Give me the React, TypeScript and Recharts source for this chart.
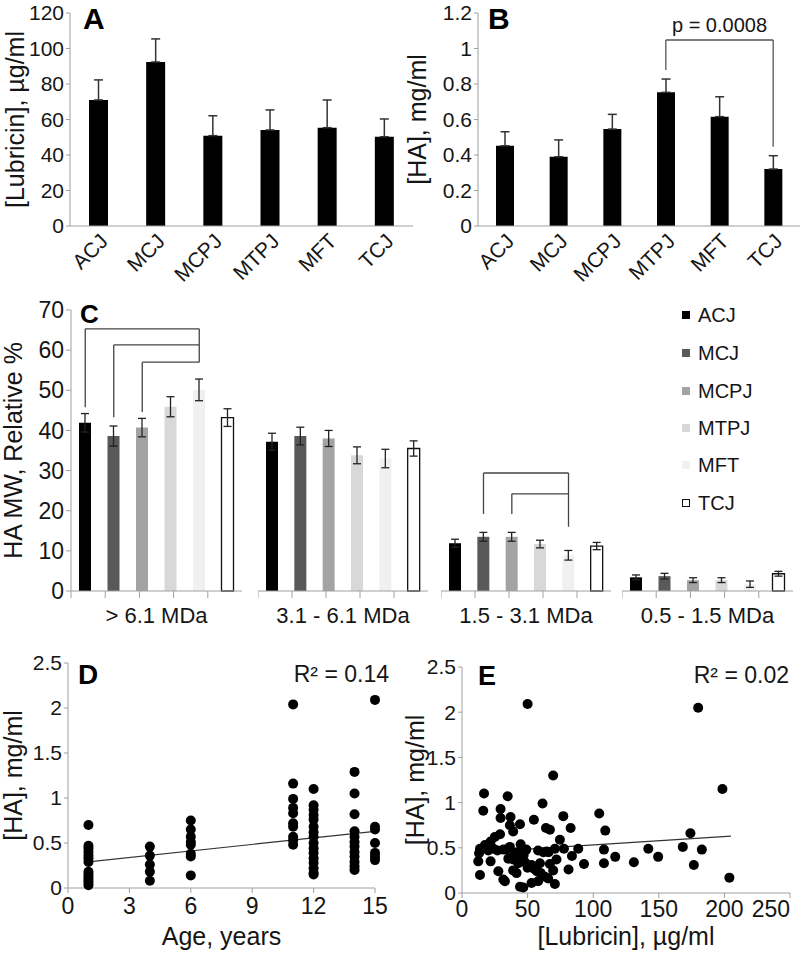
import React from 'react';
import {
  BarChart, Bar, XAxis, YAxis, ErrorBar, Cell, ReferenceLine, ScatterChart, Scatter,
} from 'recharts';

// ---------- data ----------
const joints = ['ACJ', 'MCJ', 'MCPJ', 'MTPJ', 'MFT', 'TCJ'];
const jointColors = ['#000000', '#595959', '#a3a3a3', '#d8d8d8', '#f0f0f0', '#ffffff'];

const lubricin = [71, 92.4, 50.9, 54.1, 55.4, 50.3];
const lubricinErr = [11.3, 13, 11.2, 11.3, 15.6, 10];

const haConc = [0.452, 0.39, 0.546, 0.753, 0.616, 0.321];
const haErr = [0.079, 0.095, 0.083, 0.075, 0.112, 0.075];
const haBracket = { left: 'MTPJ', right: 'TCJ', top: 1.048, leftBottom: 0.879, rightBottom: 0.447 };

const mwGroups = ['> 6.1 MDa', '3.1 - 6.1 MDa', '1.5 - 3.1 MDa', '0.5 - 1.5 MDa'];
const mwHigh = [41.9, 38.6, 40.7, 45.9, 50.1, 43.2];
const mwHighErr = [2.3, 2.5, 2.3, 2.5, 2.7, 2.2];
const mwMid = [37.2, 38.6, 38.0, 33.8, 33.0, 35.5];
const mwMidErr = [2.1, 2.2, 2.0, 2.1, 2.3, 1.9];
const mwLow = [11.9, 13.5, 13.5, 11.7, 8.9, 11.2];
const mwLowErr = [1.0, 1.1, 1.1, 0.95, 1.2, 0.9];
const mwVeryLow = [3.4, 3.7, 2.7, 2.7, 1.7, 4.3];
const mwVeryLowErr = [0.6, 0.7, 0.6, 0.6, 0.8, 0.6];
const mwValues = [mwHigh, mwMid, mwLow, mwVeryLow];
const mwErrs = [mwHighErr, mwMidErr, mwLowErr, mwVeryLowErr];

// brackets: [from joint, to joint, horizontal level, from-leg bottom, to-leg bottom]
const bracketsHigh: [string, string, number, number, number][] = [
  ['ACJ', 'MFT', 65.3, 45.8, 57.0],
  ['MCJ', 'MFT', 61.3, 43.3, 57.0],
  ['MCPJ', 'MFT', 57.0, 44.6, 57.0],
];
const bracketsLow: [string, string, number, number, number][] = [
  ['MCJ', 'MFT', 29.4, 19.2, 16.0],
  ['MCPJ', 'MFT', 24.2, 19.2, 16.0],
];
const mwBrackets = [bracketsHigh, [], bracketsLow, []];

const ageYears = [
  1, 1, 1, 1, 1, 1, 1, 1, 1, 1, 1, 1, 1,
  4, 4, 4, 4, 4,
  6, 6, 6, 6, 6, 6, 6, 6,
  11, 11, 11, 11, 11, 11, 11, 11, 11, 11,
  12, 12, 12, 12, 12, 12, 12, 12, 12, 12, 12, 12, 12, 12, 12, 12,
  14, 14, 14, 14, 14, 14, 14, 14, 14, 14, 14, 14,
  15, 15, 15, 15, 15, 15, 15,
];
const ageHA = [
  0.70, 0.47, 0.44, 0.40, 0.36, 0.33, 0.29, 0.18, 0.15, 0.12, 0.09, 0.06, 0.03,
  0.46, 0.36, 0.26, 0.18, 0.08,
  0.75, 0.65, 0.57, 0.51, 0.48, 0.38, 0.35, 0.14,
  2.04, 1.16, 0.99, 0.89, 0.83, 0.72, 0.68, 0.57, 0.53, 0.48,
  1.10, 0.92, 0.87, 0.81, 0.76, 0.68, 0.62, 0.57, 0.50, 0.44, 0.39, 0.33, 0.28, 0.22, 0.17, 0.15,
  1.29, 1.05, 0.82, 0.63, 0.57, 0.51, 0.46, 0.40, 0.35, 0.29, 0.24, 0.20,
  2.09, 0.68, 0.65, 0.50, 0.39, 0.35, 0.31,
];
const ageTrend = [{ x: 1, y: 0.29 }, { x: 15, y: 0.63 }];

const lubVals = [
  50, 69.5, 16.8, 34.8, 16.2, 61.4, 29.4, 29.4, 37, 54.8, 44.2, 36.5, 64, 67, 29, 25, 39, 21.8, 17.5, 13.7,
  36.5, 44.7, 13, 24, 31.5, 34, 49, 58, 64.5, 70.8, 12.4, 21.8, 35.3, 39, 42.9, 48, 53, 59.4, 67, 72,
  13.7, 27.7, 39, 41.6, 57, 63.2, 69.5, 31.5, 32.7, 44.2, 46.7, 53, 58, 65.7, 70.8,
  62, 66, 45, 40, 50, 55, 60, 20, 27, 42, 47,
  180, 198.5, 77.2, 104.6, 82.8, 109.2, 174.1, 74.6, 77.7, 88.6, 108.2, 116.8, 83.8, 142, 149.5, 168.3,
  182.8, 93, 108.2, 131, 176.7, 81.2, 203.8,
];
const lubHA = [
  2.09, 1.30, 1.10, 1.07, 0.91, 0.99, 0.93, 0.83, 0.84, 0.81, 0.76, 0.75, 0.72, 0.70, 0.65, 0.62, 0.68, 0.57, 0.53, 0.49,
  0.51, 0.54, 0.44, 0.49, 0.48, 0.48, 0.48, 0.47, 0.46, 0.49, 0.35, 0.35, 0.38, 0.37, 0.33, 0.34, 0.31, 0.33, 0.32, 0.37,
  0.20, 0.24, 0.25, 0.22, 0.24, 0.18, 0.25, 0.15, 0.13, 0.07, 0.06, 0.11, 0.13, 0.16, 0.10,
  0.45, 0.45, 0.40, 0.42, 0.28, 0.27, 0.22, 0.47, 0.47, 0.45, 0.42,
  2.05, 1.15, 0.85, 0.88, 0.72, 0.69, 0.66, 0.59, 0.49, 0.49, 0.48, 0.40, 0.41, 0.49, 0.40, 0.51,
  0.48, 0.32, 0.33, 0.34, 0.31, 0.26, 0.17,
];
const lubTrend = [{ x: 12, y: 0.45 }, { x: 205, y: 0.63 }];
const lubTicks = [0, 50, 100, 150, 200, 250];

// ---------- style ----------
const FONT = '"Liberation Sans", Arial, Helvetica, sans-serif';
const AXIS = '#a0a0a0';
const INK = '#151515';

const dot = (p: any) => <circle cx={p.cx} cy={p.cy} r={5} fill="#000" />;

function Letter({ ch, left, top, size }: { ch: string; left: number; top: number; size: number }) {
  return (
    <div style={{ position: 'absolute', left, top, fontSize: size, fontWeight: 'bold', lineHeight: 1, color: '#000' }}>
      {ch}
    </div>
  );
}

const rotTick = { fill: INK, fontSize: 21, angle: -45, textAnchor: 'end' } as any;

function PanelA() {
  const data = joints.map((j, i) => ({ name: j, v: lubricin[i], e: [0, lubricinErr[i]] }));
  return (
    <div style={{ position: 'absolute', left: 0, top: 0 }}>
      <BarChart width={415} height={285} data={data} margin={{ top: 13, right: 2, left: 0, bottom: 0 }}>
        <XAxis dataKey="name" height={59} interval={0} tickLine={false} stroke={AXIS} tickSize={4} tickMargin={2} tick={rotTick} />
        <YAxis width={70} domain={[0, 120]} ticks={[0, 20, 40, 60, 80, 100, 120]} stroke={AXIS} tickSize={4}
          tick={{ fill: INK, fontSize: 21 }}
          label={{ value: '[Lubricin], µg/ml', angle: -90, position: 'insideLeft', offset: 15, style: { textAnchor: 'middle', fill: INK, fontSize: 25 } }} />
        <Bar dataKey="v" fill="#000" barSize={19} isAnimationActive={false}>
          <ErrorBar dataKey="e" width={4.5} stroke="#333" strokeWidth={1.5} />
        </Bar>
      </BarChart>
    </div>
  );
}

function PanelB() {
  const data = joints.map((j, i) => ({ name: j, v: haConc[i], e: [0, haErr[i]] }));
  const b = haBracket;
  return (
    <div style={{ position: 'absolute', left: 400, top: 0 }}>
      <BarChart width={400} height={285} data={data} margin={{ top: 13, right: 0, left: 0, bottom: 0 }}>
        <XAxis dataKey="name" height={59} interval={0} tickLine={false} stroke={AXIS} tickSize={4} tickMargin={2} tick={rotTick} />
        <YAxis width={78} domain={[0, 1.2]} ticks={[0, 0.2, 0.4, 0.6, 0.8, 1, 1.2]} stroke={AXIS} tickSize={4}
          tick={{ fill: INK, fontSize: 21 }}
          label={{ value: '[HA], mg/ml', angle: -90, position: 'insideLeft', offset: 17, style: { textAnchor: 'middle', fill: INK, fontSize: 25 } }} />
        <Bar dataKey="v" fill="#000" barSize={18} isAnimationActive={false}>
          <ErrorBar dataKey="e" width={4.5} stroke="#333" strokeWidth={1.5} />
        </Bar>
        <ReferenceLine segment={[{ x: b.left, y: b.leftBottom }, { x: b.left, y: b.top }]} stroke="#555" strokeWidth={1.3} />
        <ReferenceLine segment={[{ x: b.left, y: b.top }, { x: b.right, y: b.top }]} stroke="#555" strokeWidth={1.3}
          label={{ value: 'p = 0.0008', position: 'top', offset: 8, fill: INK, fontSize: 20 }} />
        <ReferenceLine segment={[{ x: b.right, y: b.top }, { x: b.right, y: b.rightBottom }]} stroke="#555" strokeWidth={1.3} />
      </BarChart>
    </div>
  );
}

const groupLeft = [0, 258, 441, 622];
const groupWidth = [242, 170, 170, 171];

function GroupChart({ idx }: { idx: number }) {
  const vals = mwValues[idx];
  const errs = mwErrs[idx];
  const data = joints.map((j, i) => ({ name: j, v: vals[i], e: errs[i] }));
  const first = idx === 0;
  const brackets = mwBrackets[idx] as [string, string, number, number, number][];
  return (
    <div style={{ position: 'absolute', left: groupLeft[idx], top: 290 }}>
      <BarChart width={groupWidth[idx]} height={340} data={data} margin={{ top: 20, right: 0, left: 0, bottom: 0 }}>
        <XAxis xAxisId="cat" dataKey="name" hide height={0} />
        <XAxis xAxisId="num" type="number" domain={[0, 6]} ticks={[0, 1, 2, 3, 4, 5, 6]} allowDataOverflow
          tickFormatter={() => ''} tickSize={7} stroke={AXIS} height={39}
          label={{ value: mwGroups[idx], position: 'insideTop', offset: 16, fill: INK, fontSize: 22 }} />
        <YAxis hide={!first} width={first ? 71 : 0} domain={[0, 70]} ticks={[0, 10, 20, 30, 40, 50, 60, 70]}
          stroke={AXIS} tickSize={5} tick={{ fill: INK, fontSize: 23 }}
          label={first ? { value: 'HA MW, Relative %', angle: -90, position: 'insideLeft', offset: 13, style: { textAnchor: 'middle', fill: INK, fontSize: 25 } } : undefined} />
        <Bar xAxisId="cat" dataKey="v" barSize={12} isAnimationActive={false}>
          {data.map((d, i) => (
            <Cell key={d.name} fill={jointColors[i]} stroke={i === 5 ? '#111' : 'none'} strokeWidth={i === 5 ? 1.3 : 0} />
          ))}
          <ErrorBar dataKey="e" width={4} stroke="#222" strokeWidth={1.3} />
        </Bar>
        {brackets.map(([a, c, lvl, aBot], k) => (
          <ReferenceLine key={'a' + k} xAxisId="cat" segment={[{ x: a, y: aBot }, { x: a, y: lvl }]} stroke="#444" strokeWidth={1.3} />
        ))}
        {brackets.map(([a, c, lvl], k) => (
          <ReferenceLine key={'h' + k} xAxisId="cat" segment={[{ x: a, y: lvl }, { x: c, y: lvl }]} stroke="#444" strokeWidth={1.3} />
        ))}
        {brackets.length > 0 && (
          <ReferenceLine xAxisId="cat"
            segment={[{ x: brackets[0][1], y: brackets[0][2] }, { x: brackets[0][1], y: brackets[0][4] }]}
            stroke="#444" strokeWidth={1.3} />
        )}
      </BarChart>
    </div>
  );
}

function LegendC() {
  const rows = [315, 353, 391, 428, 465, 503];
  return (
    <>
      {joints.map((j, i) => (
        <div key={j} style={{ position: 'absolute', left: 682, top: rows[i] - 12, height: 24, display: 'flex', alignItems: 'center' }}>
          <div style={{
            width: i === 5 ? 6 : 8, height: i === 5 ? 6 : 8, background: jointColors[i],
            border: i === 5 ? '1px solid #111' : 'none', marginRight: 8,
          }} />
          <span style={{ fontSize: 20, color: INK, lineHeight: '24px' }}>{j}</span>
        </div>
      ))}
    </>
  );
}

function PanelD() {
  const data = ageYears.map((a, i) => ({ x: a, y: ageHA[i] }));
  return (
    <div style={{ position: 'absolute', left: 0, top: 640 }}>
      <ScatterChart width={400} height={316} margin={{ top: 23, right: 25, left: 0, bottom: 0 }}>
        <XAxis type="number" dataKey="x" domain={[0, 15]} ticks={[0, 3, 6, 9, 12, 15]} stroke={AXIS} tickSize={5} tickMargin={5}
          height={68} tick={{ fill: INK, fontSize: 23 }}
          label={{ value: 'Age, years', position: 'insideBottom', offset: 11, fill: INK, fontSize: 25 }} />
        <YAxis type="number" dataKey="y" width={68} domain={[0, 2.5]} ticks={[0, 0.5, 1, 1.5, 2, 2.5]} stroke={AXIS} tickSize={4}
          tick={{ fill: INK, fontSize: 21 }}
          label={{ value: '[HA], mg/ml', angle: -90, position: 'insideLeft', offset: 13, style: { textAnchor: 'middle', fill: INK, fontSize: 25 } }} />
        <Scatter data={data} shape={dot} isAnimationActive={false} />
        <ReferenceLine segment={ageTrend} stroke="#333" strokeWidth={1.2} />
      </ScatterChart>
    </div>
  );
}

const lubTick = (p: any) => {
  const last = p.payload.value === lubTicks[lubTicks.length - 1];
  return (
    <text x={p.x + (last ? 2 : 0)} y={p.y} dy="0.71em" textAnchor={last ? 'end' : 'middle'} fill={INK} fontSize={23}>
      {p.payload.value}
    </text>
  );
};

function PanelE() {
  const data = lubVals.map((x, i) => ({ x, y: lubHA[i] }));
  return (
    <div style={{ position: 'absolute', left: 400, top: 640 }}>
      <ScatterChart width={400} height={316} margin={{ top: 27, right: 10, left: 0, bottom: 0 }}>
        <XAxis type="number" dataKey="x" domain={[0, 250]} ticks={lubTicks} stroke={AXIS} tickSize={5} tickMargin={3}
          height={63} tick={lubTick}
          label={{ value: '[Lubricin], µg/ml', position: 'insideBottom', offset: 11, fill: INK, fontSize: 25 }} />
        <YAxis type="number" dataKey="y" width={62} domain={[0, 2.5]} ticks={[0, 0.5, 1, 1.5, 2, 2.5]} stroke={AXIS} tickSize={4}
          tick={{ fill: INK, fontSize: 21 }}
          label={{ value: '[HA], mg/ml', angle: -90, position: 'insideLeft', offset: 15, style: { textAnchor: 'middle', fill: INK, fontSize: 25 } }} />
        <Scatter data={data} shape={dot} isAnimationActive={false} />
        <ReferenceLine segment={lubTrend} stroke="#333" strokeWidth={1.2} />
      </ScatterChart>
    </div>
  );
}

function RText({ text, right, top }: { text: string; right: number; top: number }) {
  return (
    <div style={{ position: 'absolute', left: right - 200, width: 200, top, textAlign: 'right', fontSize: 23, color: INK, lineHeight: '26px' }}>
      {text}
    </div>
  );
}

export default function App() {
  return (
    <div style={{ position: 'absolute', left: 0, top: 0, width: 800, height: 956, background: '#fff', fontFamily: FONT, overflow: 'hidden' }}>
      {[0, 1, 2, 3].map((i) => <GroupChart key={i} idx={i} />)}
      <PanelA />
      <PanelB />
      <LegendC />
      <PanelD />
      <PanelE />
      <Letter ch="A" left={83} top={4} size={30} />
      <Letter ch="B" left={488} top={4} size={30} />
      <Letter ch="C" left={80} top={301} size={26} />
      <Letter ch="D" left={78} top={661} size={28} />
      <Letter ch="E" left={478} top={663} size={27} />
      <RText text="R² = 0.14" right={389} top={661} />
      <RText text="R² = 0.02" right={789} top={662} />
    </div>
  );
}
